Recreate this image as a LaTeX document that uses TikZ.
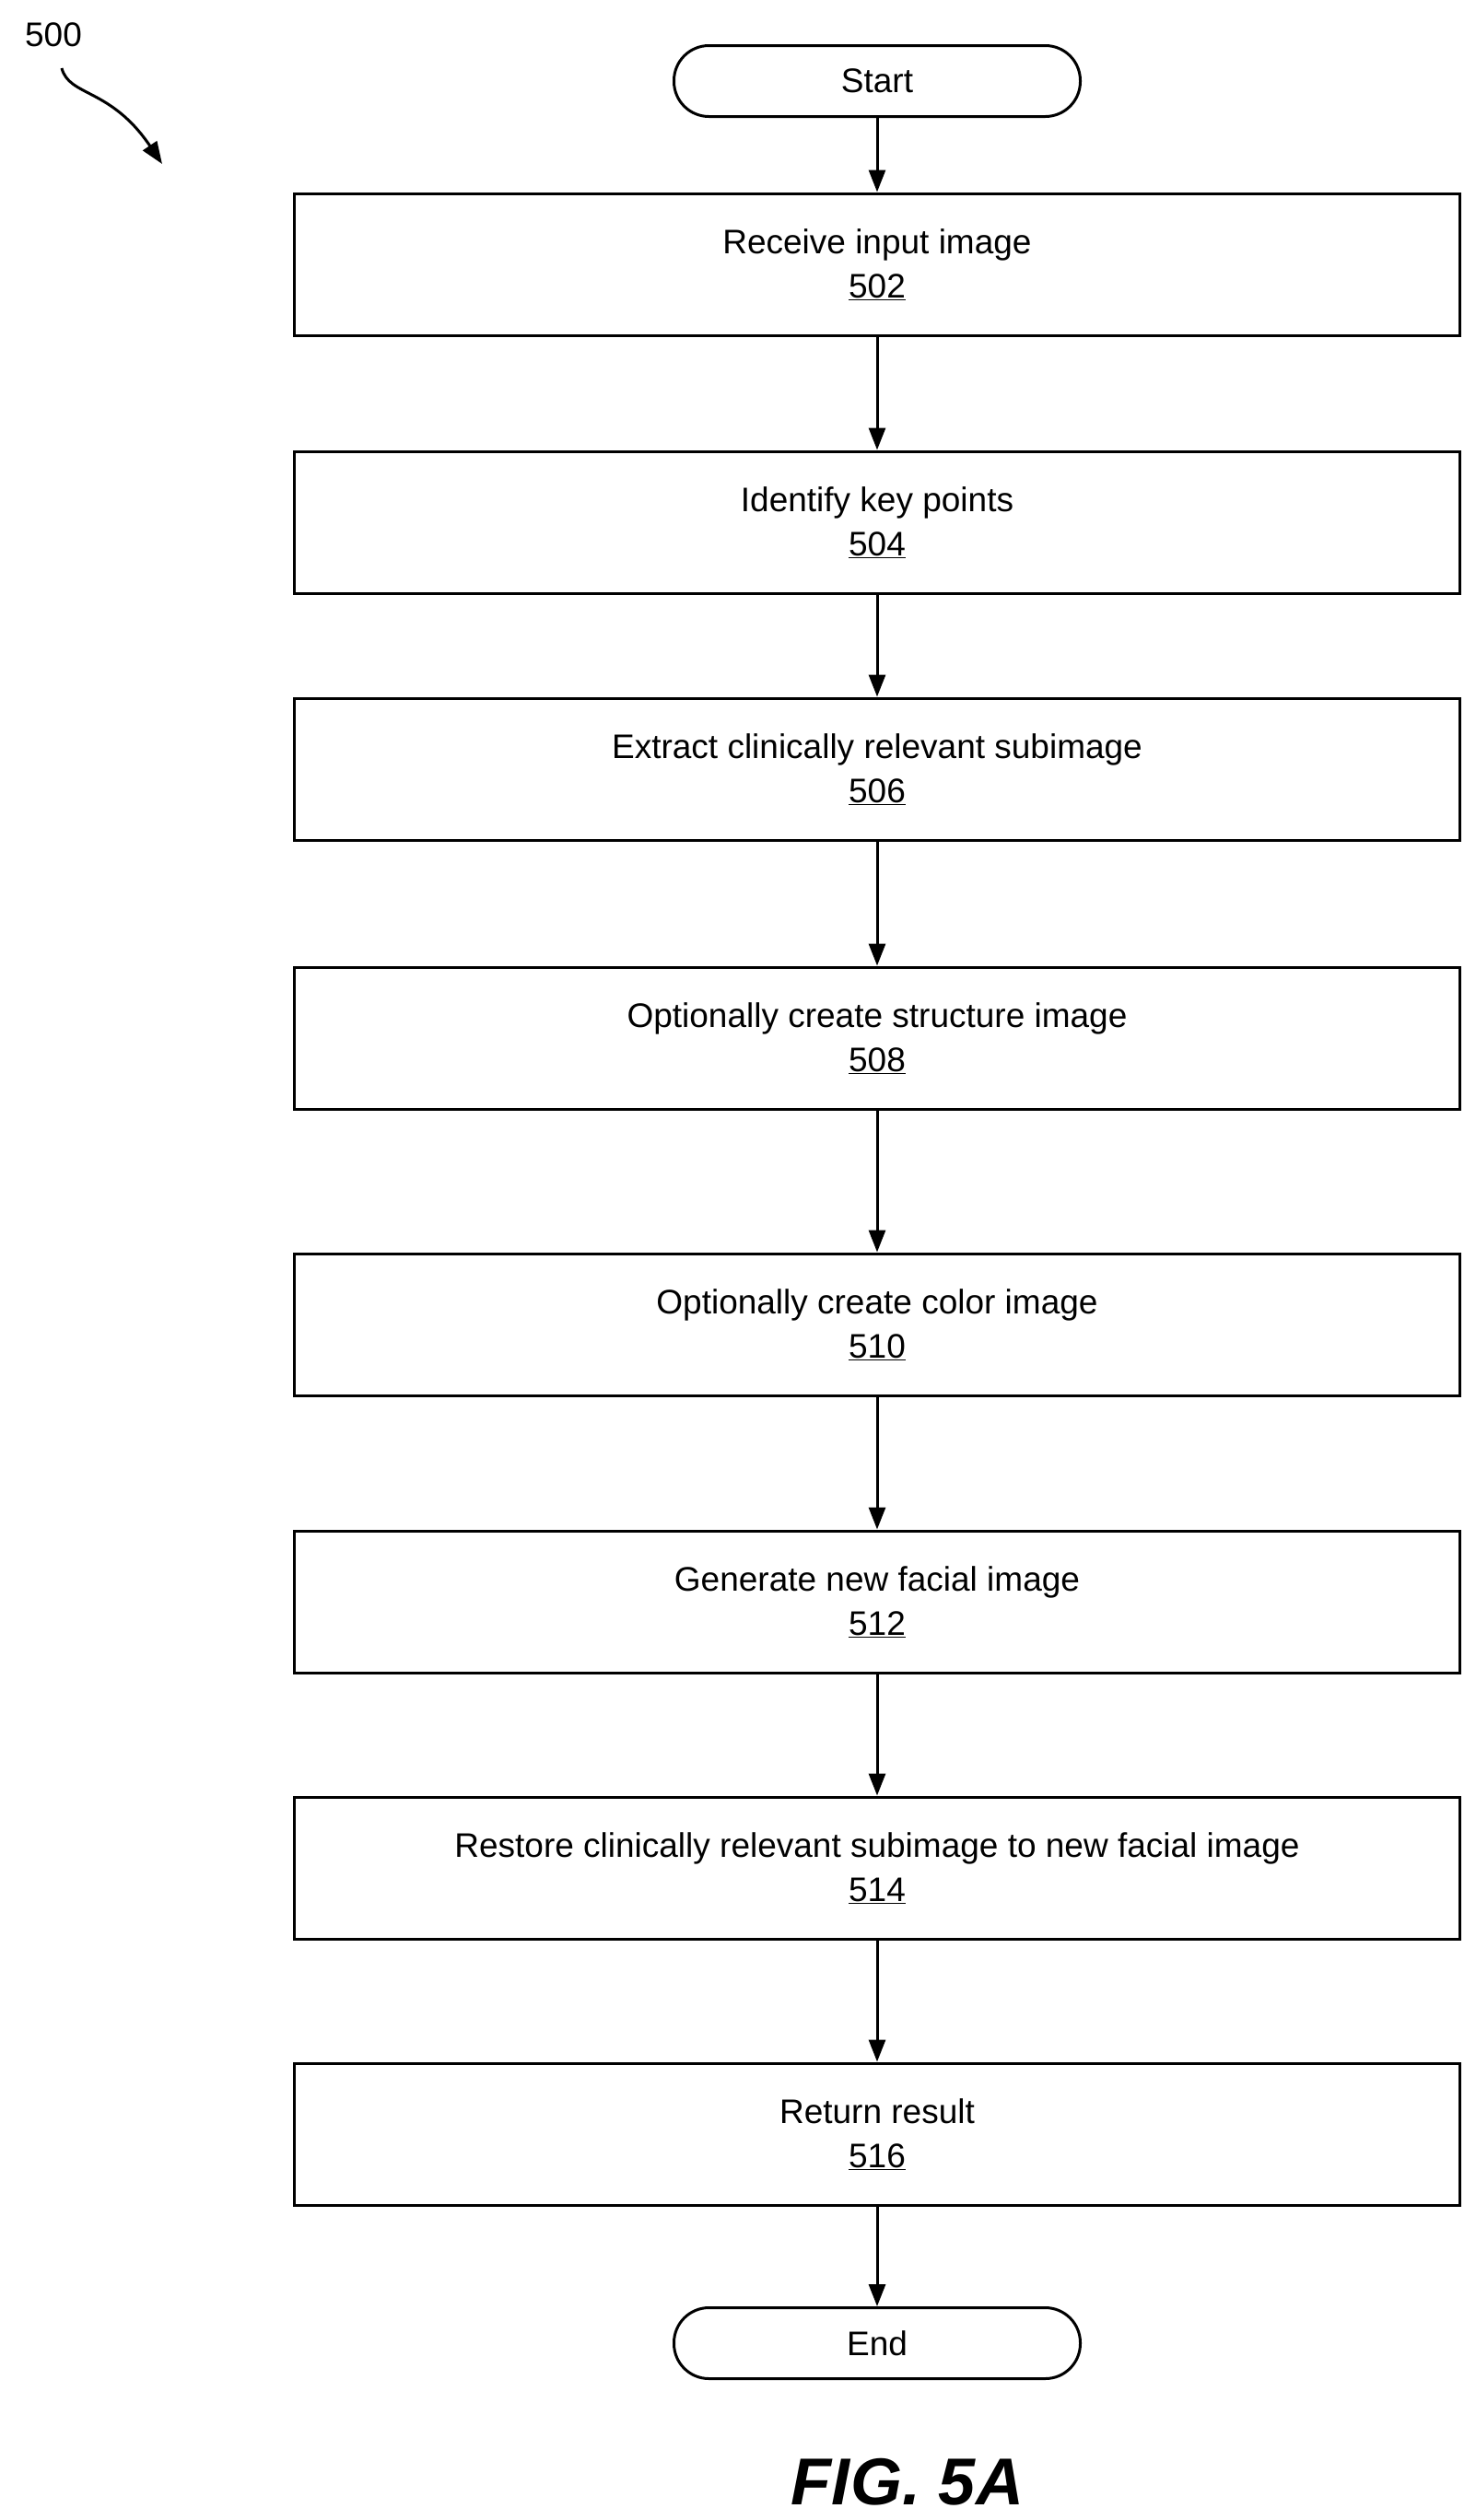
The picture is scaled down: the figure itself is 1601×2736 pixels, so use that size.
\documentclass[tikz,border=0pt]{standalone}
\usepackage{fontspec}
\setmainfont{Liberation Sans}
\usetikzlibrary{arrows.meta}
\begin{document}
\begin{tikzpicture}[x=1pt,y=-1pt,
  box/.style={draw,line width=3pt,minimum width=1265pt,minimum height=154pt,align=center,font=\fontsize{37}{48}\selectfont},
  term/.style={draw,line width=3pt,rounded corners=38pt,minimum width=441pt,minimum height=77pt,font=\fontsize{37}{44}\selectfont},
  arr/.style={line width=3pt,-{Triangle[length=24pt,width=18pt]}}]
\useasboundingbox (0,0) rectangle (1601,2736);
\node[term] (s) at (952,88) {Start};
\node[box] (a) at (952,287) {Receive input image\\\underline{502}};
\node[box] (b) at (952,567) {Identify key points\\\underline{504}};
\node[box] (c) at (952,835) {Extract clinically relevant subimage\\\underline{506}};
\node[box] (d) at (952,1127) {Optionally create structure image\\\underline{508}};
\node[box] (e) at (952,1438) {Optionally create color image\\\underline{510}};
\node[box] (f) at (952,1739) {Generate new facial image\\\underline{512}};
\node[box] (g) at (952,2028) {Restore clinically relevant subimage to new facial image\\\underline{514}};
\node[box] (h) at (952,2317) {Return result\\\underline{516}};
\node[term] (t) at (952,2544) {End};
\foreach \u/\v in {s/a,a/b,b/c,c/d,d/e,e/f,f/g,g/h,h/t} \draw[arr] (\u) -- (\v);
\node[font=\fontsize{37}{44}\selectfont] (n) at (58,38) {500};
\coordinate (p1) at (67,74);
\coordinate (p2) at (176,178);
\draw[arr] (p1) .. controls (75,105) and (120,95) .. (p2);
\node[font=\fontsize{72}{80}\selectfont\bfseries\itshape] (fig) at (985,2695) {FIG. 5A};
\end{tikzpicture}
\end{document}
